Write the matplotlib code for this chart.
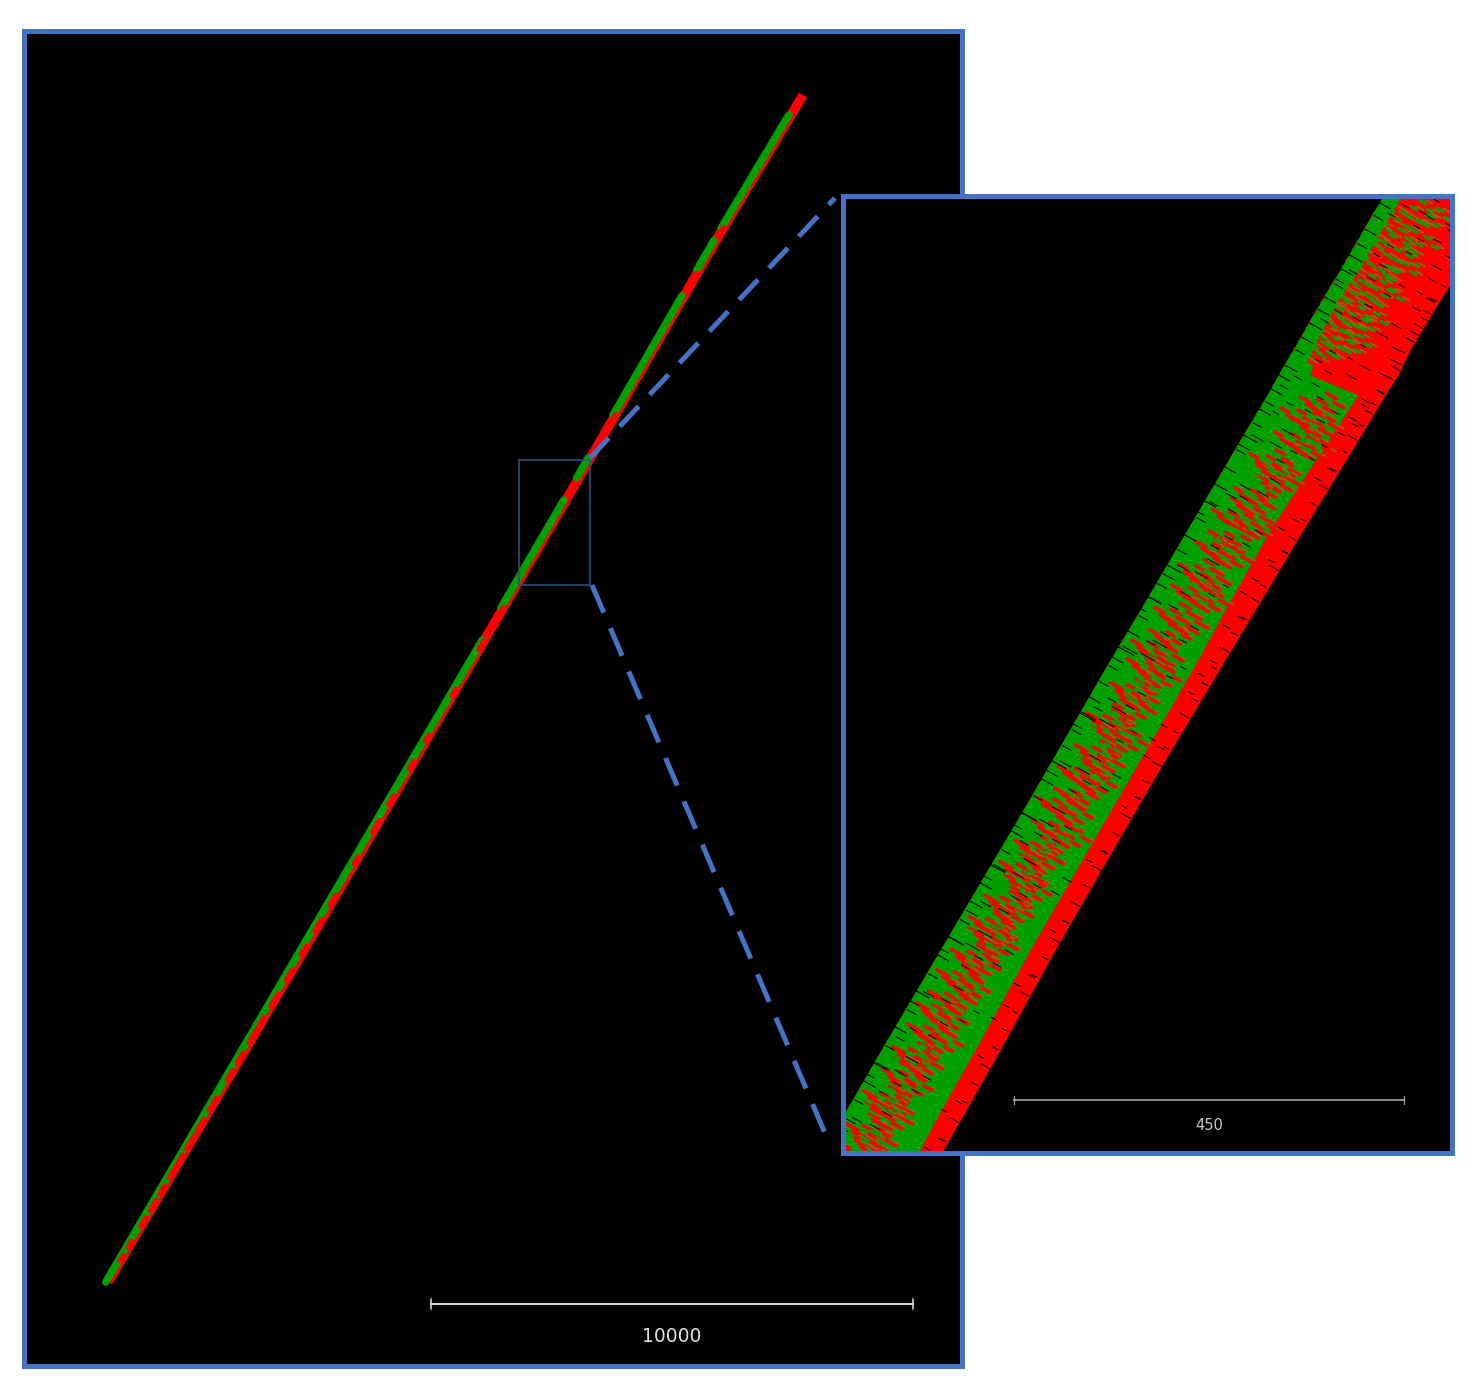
import numpy as np
import matplotlib
matplotlib.use("Agg")
import matplotlib.pyplot as plt
from matplotlib.collections import LineCollection

W, H = 1475, 1396
BLUE = "#4472C4"
RED = "#FF0000"
GREEN = "#00A000"

# overview trace (figure pixels)
trace_y = [95, 232, 457, 579, 955, 1282]
trace_x = [802, 720, 590, 519, 300, 107]
# y-intervals where the trace is green on top
green_from = [115, 240, 296, 458, 500, 640]
green_to =   [228, 270, 415, 478, 608, 1282]
# red flecks on the trace
fleck_y = [232, 282, 420, 436, 488, 612, 628, 645, 692, 738, 765, 800, 826, 860, 900, 925, 950, 975, 1000, 1022, 1036, 1058, 1075, 1104, 1125, 1142, 1160, 1172, 1190, 1205, 1222, 1244, 1258]
fleck_len = [10, 18, 12, 14, 10, 10, 12, 9, 7, 7, 8, 9, 12, 8, 10, 12, 9, 10, 13, 10, 13, 11, 10, 13, 12, 14, 11, 12, 9, 10, 9, 7, 6]

# zoomed band edges
band_y =     [150, 198, 270, 300, 350, 375, 395, 445, 530, 610, 665, 760, 820, 950, 1050, 1112, 1190]
band_left =  [1410, 1382, 1340, 1322, 1293, 1278, 1267, 1237, 1187, 1140, 1107, 1052, 1017, 940, 881, 845, 799]
band_green = [1428, 1400, 1362, 1335, 1318, 1310, 1358, 1325, 1270, 1225, 1195, 1140, 1105, 1030, 975, 940, 898]
band_right = [1560, 1510, 1460, 1440, 1410, 1398, 1385, 1355, 1303, 1255, 1222, 1165, 1130, 1055, 1000, 965, 920]

# green strip that stays clean along the upper left edge
strip_y = [150, 198, 270, 300, 350, 375]
strip_right = [1428, 1400, 1358, 1338, 1312, 1300]

# red streaks in the mixed core: y, fraction across the green part, half length
red_y = [215, 228, 244, 262, 281, 296, 310, 322, 336, 352, 402, 412, 424, 436, 447, 458, 469, 480, 492, 503, 514, 526, 535, 546, 556, 568, 578, 590, 600, 612, 622, 634, 645, 655, 664, 676, 688, 697, 708, 719, 729, 740, 750, 761, 772, 782, 793, 803, 813, 825, 836, 846, 858, 867, 879, 890, 901, 911, 922, 933, 944, 955, 964, 975, 987, 997, 1008, 1018, 1030, 1041, 1052, 1062, 1074, 1085, 1096, 1107, 1118, 1129, 1139, 1148]
red_u = [.82, .90, .76, .88, .72, .93, .80, .86, .78, .84, .66, .50, .78, .60, .86, .48, .64, .74, .54, .60, .45, .82, .55, .48, .70, .42, .58, .50, .74, .44, .62, .52, .40, .56, .48, .68, .45, .55, .60, .40, .50, .72, .46, .58, .42, .64, .50, .38, .58, .46, .70, .42, .54, .38, .50, .62, .44, .54, .40, .48, .60, .42, .52, .38, .56, .44, .36, .50, .42, .60, .38, .48, .40, .54, .34, .44, .52, .36, .46, .40]
red_len = [9, 7, 8, 6, 8, 9, 7, 8, 6, 7, 5, 4, 6, 4, 5, 4, 5, 5, 4, 5, 5, 6, 4, 5, 5, 4, 6, 5, 5, 5, 6, 4, 5, 5, 6, 4, 6, 5, 4, 7, 5, 4, 6, 5, 7, 4, 5, 7, 4, 5, 4, 7, 5, 6, 5, 4, 7, 5, 6, 7, 4, 7, 5, 6, 4, 7, 6, 5, 7, 4, 6, 7, 5, 4, 6, 7, 5, 6, 7, 5]

# green flecks in the red upper part
gfleck_y = [208, 222, 236, 250, 262, 276, 288, 300, 314, 326, 338, 348, 216, 244, 270, 296, 320, 342]
gfleck_u = [.18, .30, .12, .25, .34, .16, .28, .10, .22, .30, .14, .24, .38, .42, .36, .44, .40, .33]

# black ticks: y, fraction across the whole band, half length
tick_y = [206, 218, 232, 246, 258, 272, 286, 300, 312, 326, 340, 352, 368, 378, 392, 404, 412, 425, 438, 452, 470, 487, 504, 520, 538, 552, 568, 586, 600, 618, 634, 650, 668, 684, 700, 716, 732, 748, 764, 782, 798, 816, 834, 852, 868, 886, 904, 922, 940, 958, 976, 994, 1012, 1030, 1048, 1066, 1084, 1102, 1120, 1140]
tick_u = [.22, .48, .72, .30, .85, .12, .60, .92, .20, .76, .95, .35, .70, .18, .94, .24, .66, .90, .14, .52, .93, .28, .10, .88, .40, .96, .16, .62, .08, .92, .34, .12, .68, .95, .22, .10, .58, .90, .14, .42, .96, .08, .26, .93, .10, .52, .16, .96, .08, .38, .92, .12, .62, .18, .95, .09, .30, .90, .14, .94]
tick_len = [4, 3, 4, 3, 5, 4, 3, 4, 4, 5, 4, 3, 5, 4, 4, 3, 4, 3, 6, 3, 4, 5, 4, 3, 4, 3, 6, 3, 5, 3, 4, 7, 3, 3, 4, 7, 3, 3, 6, 4, 3, 7, 4, 3, 6, 4, 5, 3, 7, 4, 3, 5, 3, 4, 3, 6, 4, 3, 5, 3]

# texture pattern placed around each streak and tick (pixels)
core_dx = [0, -11, 9, 16, -5, 6, -17]
core_dy = [0, 5, -6, 3, 9, 8, -2]
speck_dx = [0, 18, -14, 30]
speck_dy = [0, 7, 9, -6]

bar_main_x = [431, 913]
bar_inset_x = [1014, 1404]

plt.rcParams["font.family"] = ["DejaVu Sans"]
fig = plt.figure(figsize=(W / 100, H / 100), dpi=100, facecolor="white")
px = 0.72  # one pixel in points


def panel(x0, y0, x1, y1, z):
    ax = fig.add_axes([x0 / W, 1 - y1 / H, (x1 - x0) / W, (y1 - y0) / H], zorder=z)
    ax.set_xlim(x0, x1)
    ax.set_ylim(y1, y0)
    ax.set_facecolor("black")
    ax.set_xticks([])
    ax.set_yticks([])
    for s in ax.spines.values():
        s.set_color(BLUE)
        s.set_linewidth(5 * px)
        s.set_zorder(10)
    return ax


# ---------- overview ----------
ax = panel(24, 31, 962, 1366, 1)
tx = lambda y: np.interp(y, trace_y, trace_x)
ys = np.array(trace_y, float)
ax.plot(tx(ys) + 1, ys, color=RED, lw=9.5 * px, solid_capstyle="butt")
for a, b in zip(green_from, green_to):
    yy = np.array([a, b], float)
    ax.plot(tx(yy) - 1.2, yy, color=GREEN, lw=7.5 * px, solid_capstyle="round")
for y, l in zip(fleck_y, fleck_len):
    yy = np.array([y - l / 2, y + l / 2])
    ax.plot(tx(yy) + 0.6, yy, color=RED, lw=4.5 * px, solid_capstyle="round")
ax.plot(bar_main_x, [1304, 1304], color="#D8D8D8", lw=2 * px)
for x in bar_main_x:
    ax.plot([x, x], [1299, 1309], color="#D8D8D8", lw=1.5 * px)
ax.text(sum(bar_main_x) / 2, 1337, "10000", color="#E0E0E0", fontsize=13.5, ha="center", va="center")
ax.plot([519, 590, 590, 519, 519], [460, 460, 585, 585, 460], color="#2F4F82", lw=1.6 * px)
ax.plot([590, 835], [458, 198], color=BLUE, lw=5 * px, ls=(0, (5.5, 3.2)))
ax.plot([592, 830], [585, 1145], color=BLUE, lw=5 * px, ls=(0, (6, 3.4)))

# ---------- inset ----------
ins = panel(843, 196, 1452, 1153, 2)
band = ins.fill_betweenx(band_y, band_left, band_right, color=RED, lw=0)
ins.fill_betweenx(band_y, band_left, band_green, color=GREEN, lw=0)
clip_patch = plt.Polygon(band.get_paths()[0].vertices, transform=ins.transData, fc="none", ec="none")
ins.add_patch(clip_patch)


def streaks(ys_, xs_, lens, color, lw, dxs=(0,), dys=(0,)):
    segs = []
    for x, y, l in zip(xs_, ys_, lens):
        for dx, dy in zip(dxs, dys):
            segs.append([(x + dx - l, y + dy - 0.55 * l), (x + dx + l, y + dy + 0.55 * l)])
    lc = LineCollection(segs, colors=color, linewidths=lw * px, capstyle="round", zorder=3)
    ins.add_collection(lc)
    lc.set_clip_path(clip_patch)


bl = np.interp(red_y, band_y, band_left)
bg = np.interp(red_y, band_y, band_green)
rx = bl + np.array(red_u) * (bg - bl)
streaks(red_y, rx, red_len, RED, 3.5, core_dx, core_dy)
streaks(red_y, rx + 6, np.array(red_len) * 0.5, "#8A6A10", 1.6, core_dx, core_dy)
streaks(red_y, rx - 8, np.array(red_len) * 0.6, GREEN, 2.5, core_dx[:4], core_dy[:4])

gy = np.array(gfleck_y)
gl = np.interp(gy, band_y, band_green)
gr = np.interp(gy, band_y, band_right)
streaks(gy, gl + np.array(gfleck_u) * (gr - gl), np.full(gy.size, 3), GREEN, 3, core_dx[:5], core_dy[:5])
streaks(gy, gl + np.array(gfleck_u) * (gr - gl) + 6, np.full(gy.size, 3), "#8A6A10", 1.8, core_dx[:5], core_dy[:5])

strip_left = np.interp(strip_y, band_y, band_left)
ins.fill_betweenx(strip_y, strip_left, strip_right, color=GREEN, lw=0, zorder=3.5)

tl = np.interp(tick_y, band_y, band_left)
tr = np.interp(tick_y, band_y, band_right)
streaks(tick_y, tl + np.array(tick_u) * (tr - tl), tick_len, "black", 1.0, speck_dx, speck_dy)
streaks(tick_y, tl + 8, np.array(tick_len) * 1.4, "black", 1.1)
streaks(tick_y, tr - 6, np.array(tick_len) * 0.8, "black", 1.0)
for c in ins.collections[-3:]:
    c.set_zorder(4)

ins.plot(bar_inset_x, [1100, 1100], color="#8C8C8C", lw=2 * px)
for x in bar_inset_x:
    ins.plot([x, x], [1096, 1104], color="#A0A0A0", lw=1.2 * px)
ins.text(sum(bar_inset_x) / 2, 1125, "450", color="#C8C8C8", fontsize=10.5, ha="center", va="center")
ins.set_xlim(843, 1452)
ins.set_ylim(1153, 196)

fig.savefig("out.png", dpi=100, facecolor="white")
